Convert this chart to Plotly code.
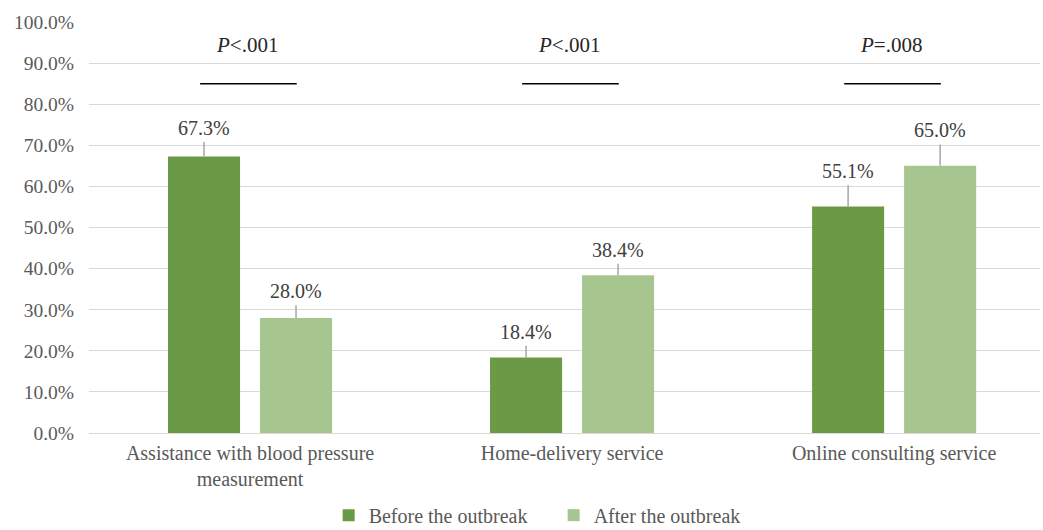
import plotly.graph_objects as go

categories = ["Assistance with blood pressure<br>measurement", "Home-delivery service", "Online consulting service"]
before_vals = [67.3, 18.4, 55.1]
after_vals = [28.0, 38.4, 65.0]
before_err = [3.5, 2.8, 5.2]
after_err = [3.1, 2.8, 5.2]
p_labels = ["<i>P</i><.001", "<i>P</i><.001", "<i>P</i>=.008"]
series_names = ["Before the outbreak", "After the outbreak"]
y_ticks = [0, 10, 20, 30, 40, 50, 60, 70, 80, 90, 100]

DARK = "#6A9A45"
LIGHT = "#A7C58F"
FONT = "Liberation Serif"
GRAY = "#595959"

fig = go.Figure()
for name, vals, errs, col in [(series_names[0], before_vals, before_err, DARK),
                              (series_names[1], after_vals, after_err, LIGHT)]:
    fig.add_trace(go.Bar(
        x=list(range(len(categories))), y=vals, name=name, marker_color=col,
        marker_line_width=0,
        error_y=dict(type="data", symmetric=False, array=errs,
                     arrayminus=[0] * len(errs), color="#A6A6A6",
                     thickness=1.5, width=0),
    ))

slot = 0.2857
for i in range(len(categories)):
    for j, (vals, errs) in enumerate([(before_vals, before_err), (after_vals, after_err)]):
        off = -slot / 2 if j == 0 else slot / 2
        fig.add_annotation(x=i + off, y=vals[i] + errs[i], text=f"{vals[i]:.1f}%",
                           showarrow=False, yanchor="bottom", yshift=1,
                           font=dict(family=FONT, size=20, color="#404040"))

for i, lab in enumerate(p_labels):
    fig.add_annotation(x=i - 0.01, y=94.4, text=lab, showarrow=False,
                       yanchor="middle",
                       font=dict(family=FONT, size=21, color="#262626"))
    fig.add_shape(type="line", x0=i - 0.155, x1=i + 0.145, y0=85, y1=85,
                  xref="x", yref="y", line=dict(color="#000000", width=1.5))

fig.update_layout(
    width=1043, height=530,
    margin=dict(l=89, r=3, t=22, b=97, autoexpand=False),
    plot_bgcolor="white", paper_bgcolor="white",
    barmode="group", bargap=0.4286, bargroupgap=0.217,
    font=dict(family=FONT, size=20, color=GRAY),
    legend=dict(orientation="h", x=0.252, xanchor="left", y=0.028, yref="container",
                yanchor="middle", font=dict(family=FONT, size=20, color=GRAY),
                itemwidth=30, entrywidth=180),
    xaxis=dict(tickvals=list(range(len(categories))), ticktext=categories,
               range=[-0.5, 2.453], showgrid=False, showline=False, automargin=False,
               ticks="", ticklabelstandoff=6,
               tickfont=dict(family=FONT, size=20, color=GRAY)),
    yaxis=dict(range=[0, 100], tickvals=y_ticks, automargin=False,
               ticktext=[f"{v:.1f}%" for v in y_ticks],
               showgrid=True, gridcolor="#D9D9D9", gridwidth=1,
               zeroline=True, zerolinecolor="#D9D9D9", zerolinewidth=1,
               ticks="", ticklabelstandoff=14,
               tickfont=dict(family=FONT, size=19.5, color=GRAY)),
)
fig.write_html("out.html")
